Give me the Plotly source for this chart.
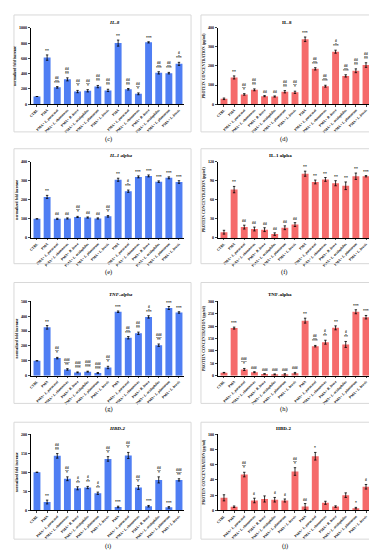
import plotly.graph_objects as go

W, H = 377, 550

categories = ["CTRL", "PMA", "PMA+ <i>L. paracasei</i>", "PMA+ <i>L. rhamnosus</i>", "PMA+ <i>B. breve</i>",
              "PMA+ <i>L. acidophilus</i>", "PMA+ <i>L. plantarum</i>", "PMA+ <i>L. brevis</i>",
              "PMA", "PMA+ <i>L. paracasei</i>", "PMA+ <i>L. rhamnosus</i>", "PMA+ <i>B. breve</i>",
              "PMA+ <i>L. acidophilus</i>", "PMA+ <i>L. plantarum</i>", "PMA+ <i>L. brevis</i>"]

# (c) IL-8 normalized fold increase
il8_norm = [100, 610, 220, 325, 165, 175, 230, 180, 800, 195, 135, 810, 410, 406, 528]
il8_norm_err = [0, 35, 10, 20, 15, 15, 15, 15, 40, 10, 12, 8, 15, 10, 20]
il8_norm_sig = ["", "**", "<u>##</u><br>***", "<u>##</u><br>**", "<u>##</u><br>*", "<u>##</u><br>*", "<u>##</u><br>**",
                "<u>##</u><br>**", "**", "<u>##</u><br>**", "<u>##</u><br>*", "***", "<u>##</u><br>***", "<u>##</u><br>***", "<u>#</u><br>***"]
# (d) IL-8 protein
il8_prot = [28, 140, 51, 75, 42, 40, 65, 62, 340, 185, 94, 275, 148, 175, 205]
il8_prot_err = [4, 8, 4, 5, 3, 3, 6, 6, 12, 6, 5, 8, 6, 10, 12]
il8_prot_sig = ["", "**", "<u>##</u><br>*", "<u>##</u><br>**", "##", "##", "<u>##</u><br>**", "<u>##</u><br>*",
                "***", "<u>##</u><br>***", "<u>##</u><br>***", "<u>#</u><br>***", "<u>##</u><br>***", "<u>##</u><br>**", "<u>##</u><br>**"]
# (e) IL-1 alpha normalized
il1a_norm = [100, 215, 100, 102, 110, 107, 102, 113, 305, 245, 320, 325, 295, 315, 293]
il1a_norm_err = [0, 8, 3, 3, 3, 3, 3, 4, 8, 6, 5, 5, 4, 5, 7]
il1a_norm_sig = ["", "**", "##", "##", "<u>##</u><br>*", "##", "##", "<u>##</u><br>*",
                 "**", "<u>#</u><br>***", "***", "***", "***", "***", "***"]
# (f) IL-1 alpha protein
il1a_prot = [9, 76, 17, 14, 13, 6, 16, 21, 101, 88, 92, 86, 82, 97, 97]
il1a_prot_err = [3, 5, 3, 3, 3, 2, 3, 3, 4, 3, 3, 4, 6, 5, 1]
il1a_prot_sig = ["", "**", "##", "##", "##", "##", "##", "##", "**", "**", "**", "**", "**", "**", "***"]
# (g) TNF-alpha normalized
tnf_norm = [100, 325, 118, 42, 22, 27, 18, 55, 430, 255, 285, 395, 205, 455, 425]
tnf_norm_err = [0, 12, 5, 5, 3, 3, 3, 8, 5, 8, 8, 8, 8, 10, 5]
tnf_norm_sig = ["", "**", "<u>##</u><br>*", "<u>###</u><br>**", "<u>###</u><br>***", "<u>###</u><br>***", "<u>###</u><br>***",
                "<u>##</u><br>*", "***", "<u>##</u><br>***", "<u>##</u><br>**", "<u>#</u><br>***", "<u>###</u><br>**", "***", "***"]
# (h) TNF-alpha protein
tnf_prot = [12, 192, 25, 14, 7, 5, 5, 10, 222, 119, 135, 193, 126, 258, 236]
tnf_prot_err = [1, 4, 4, 2, 1, 2, 3, 3, 10, 3, 8, 8, 12, 8, 7]
tnf_prot_sig = ["", "***", "<u>###</u><br>*", "###", "###", "###", "###", "###",
                "**", "<u>##</u><br>***", "<u>#</u><br>**", "**", "<u>#</u><br>**", "***", "***"]
# (i) HBD-2 normalized
hbd2_norm = [100, 22, 143, 83, 58, 60, 45, 135, 9, 144, 60, 11, 80, 8, 80]
hbd2_norm_err = [0, 5, 6, 5, 4, 3, 3, 6, 2, 8, 5, 2, 8, 2, 3]
hbd2_norm_sig = ["", "**", "<u>##</u><br>**", "<u>##</u><br>*", "<u>#</u><br>**", "<u>#</u><br>**", "<u>#</u><br>**",
                 "<u>##</u><br>*", "***", "<u>##</u><br>*", "<u>##</u><br>*", "***", "<u>##</u><br>*", "***", "<u>###</u><br>**"]
# (j) HBD-2 protein
hbd2_prot = [16.5, 4.8, 47, 13, 15, 14, 13, 51, 5, 71, 10, 5, 20, 3, 31]
hbd2_prot_err = [4, 1, 3, 3, 4, 3, 2, 5, 4, 5, 2, 1, 3, 1, 3]
hbd2_prot_sig = ["", "", "<u>##</u><br>*", "#", "", "#", "#", "<u>##</u><br>*",
                 "##", "*", "", "", "", "*", "#"]

panels = [
    (il8_norm, il8_norm_err, il8_norm_sig, "IL-8", True, 1000, 200, "(c)", 0, 0),
    (il8_prot, il8_prot_err, il8_prot_sig, "IL-8", False, 400, 100, "(d)", 1, 0),
    (il1a_norm, il1a_norm_err, il1a_norm_sig, "IL-1 alpha", True, 400, 100, "(e)", 0, 1),
    (il1a_prot, il1a_prot_err, il1a_prot_sig, "IL-1 alpha", False, 120, 30, "(f)", 1, 1),
    (tnf_norm, tnf_norm_err, tnf_norm_sig, "TNF-alpha", True, 500, 100, "(g)", 0, 2),
    (tnf_prot, tnf_prot_err, tnf_prot_sig, "TNF-alpha", False, 300, 50, "(h)", 1, 2),
    (hbd2_norm, hbd2_norm_err, hbd2_norm_sig, "HBD-2", True, 200, 50, "(i)", 0, 3),
    (hbd2_prot, hbd2_prot_err, hbd2_prot_sig, "HBD-2", False, 100, 20, "(j)", 1, 3),
]

col_x = [(21, 175), (209, 363)]
col_box = [(4, 182), (192, 370)]
row_y = [(17, 94), (152, 229), (293, 368), (427, 504)]
row_box = [(4, 122), (139, 255), (274, 396), (415, 533)]
row_title = [12, 146, 286, 421]
row_caption = [129, 263, 402, 540]

BLUE = "#4f7ef3"
RED = "#f56b6b"
SERIF = "Liberation Serif"

fig = go.Figure()
layout = dict(width=W, height=H, margin=dict(l=0, r=0, t=0, b=0), showlegend=False,
              paper_bgcolor="white", plot_bgcolor="white", bargap=0.32)
annotations = []
shapes = []

def px(x):
    return x / W

def py(y):
    return 1 - y / H

xs = list(range(len(categories)))
for i, (vals, errs, sigs, title, norm, ymax, dtick, cap, col, row) in enumerate(panels):
    n = i + 1
    xa = "x" if n == 1 else f"x{n}"
    ya = "y" if n == 1 else f"y{n}"
    color = BLUE if norm else RED
    fig.add_trace(go.Bar(x=xs, y=vals, marker=dict(color=color, line=dict(width=0)),
                         error_y=dict(type="data", array=errs, color="black", thickness=0.8, width=1.2),
                         xaxis=xa, yaxis=ya))
    x0, x1 = col_x[col]
    yt, yb = row_y[row]
    layout["xaxis" if n == 1 else f"xaxis{n}"] = dict(
        domain=[px(x0), px(x1)], anchor=ya, range=[-0.6, 14.5],
        tickvals=xs, ticktext=categories, tickangle=-45,
        tickfont=dict(family=SERIF, size=3.6, color="black", weight="bold"),
        showline=True, linecolor="black", linewidth=1, ticks="outside", ticklen=1.5, tickwidth=0.6,
        showgrid=False, zeroline=False)
    layout["yaxis" if n == 1 else f"yaxis{n}"] = dict(
        domain=[py(yb), py(yt)], anchor=xa, range=[0, ymax], dtick=dtick, tick0=0,
        tickfont=dict(family=SERIF, size=4, color="black", weight="bold"),
        showline=True, linecolor="black", linewidth=1, ticks="outside", ticklen=2, tickwidth=0.8,
        showgrid=False, zeroline=False,
        title=dict(text="<b>normalized fold increase</b>" if norm else "<b>PROTEIN CONCENTRATION (pg/ml)</b>",
                   font=dict(family=SERIF, size=3.8, color="black"), standoff=2))
    for k in xs:
        if sigs[k]:
            annotations.append(dict(x=k, y=vals[k] + errs[k], xref=xa, yref=ya, text=sigs[k],
                                    showarrow=False, yanchor="bottom", yshift=0,
                                    font=dict(family=SERIF, size=3.8, color="black", weight="bold")))
    bx0, bx1 = col_box[col]
    by0, by1 = row_box[row]
    shapes.append(dict(type="rect", xref="paper", yref="paper", x0=px(bx0), x1=px(bx1),
                       y0=py(by1), y1=py(by0), line=dict(color="#d8d8d8", width=1)))
    ttext = f"<b><i>{title}</i></b>" if norm else f"<b>{title}</b>"
    annotations.append(dict(x=px((x0 + x1) / 2), y=py(row_title[row]), xref="paper", yref="paper",
                            text=ttext, showarrow=False, yanchor="middle",
                            font=dict(family=SERIF, size=5, color="black")))
    annotations.append(dict(x=px((bx0 + bx1) / 2), y=py(row_caption[row]), xref="paper", yref="paper",
                            text=cap, showarrow=False, yanchor="middle",
                            font=dict(family=SERIF, size=6.5, color="black")))

layout["annotations"] = annotations
layout["shapes"] = shapes
fig.update_layout(**layout)
fig.write_html("out.html")
